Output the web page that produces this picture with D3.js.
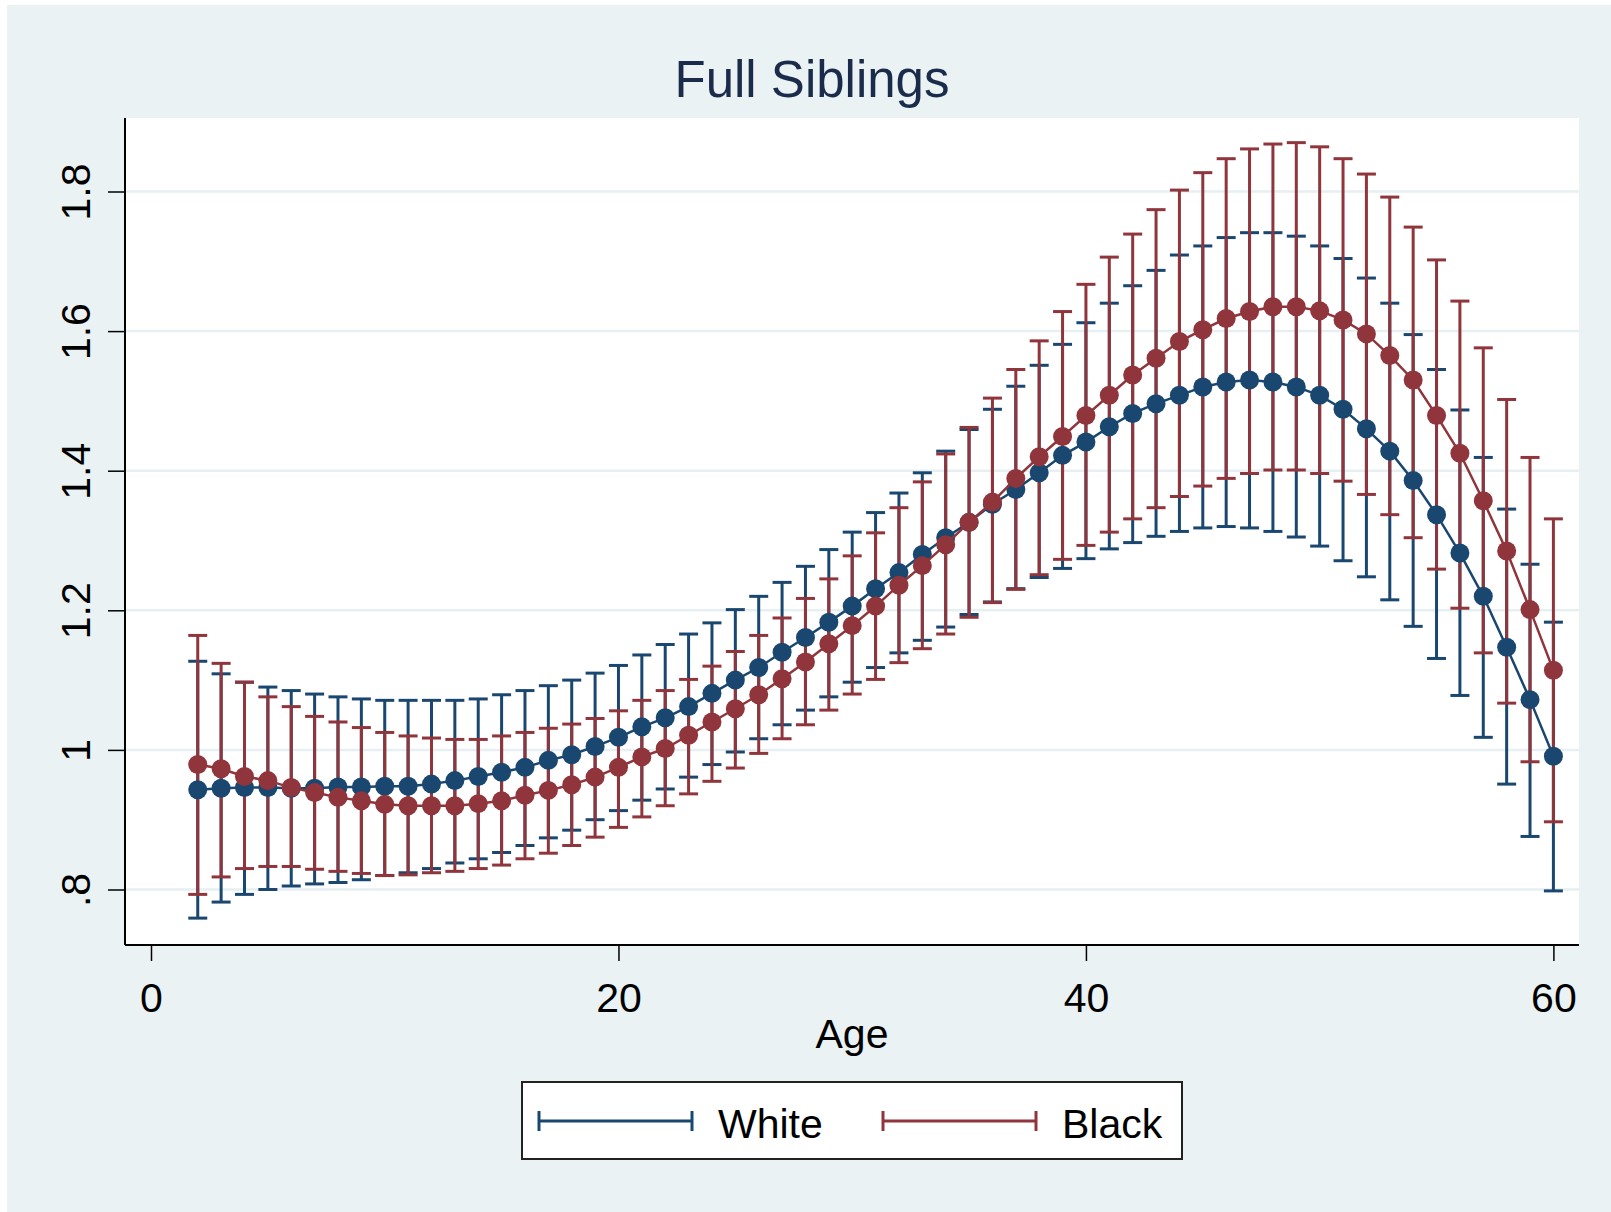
<!DOCTYPE html>
<html>
<head>
<meta charset="utf-8">
<script src="https://cdn.jsdelivr.net/npm/d3@7"></script>
<style>
  body { margin: 0; background: #fff; }
  svg { display: block; }
  text { font-family: "Liberation Sans", Arial, sans-serif; }
</style>
</head>
<body>
<svg id="chart" width="1611" height="1212"></svg>
<script>

var ages = [2,3,4,5,6,7,8,9,10,11,12,13,14,15,16,17,18,19,20,21,22,23,24,25,26,27,28,29,30,31,
            32,33,34,35,36,37,38,39,40,41,42,43,44,45,46,47,48,49,50,51,52,53,54,55,56,57,58,59,60];

// white
var whiteMean = [0.943,0.945,0.946,0.946,0.945,0.945,0.947,0.947,0.948,0.948,0.951,0.956,0.962,0.968,0.975,
                 0.985,0.993,1.005,1.018,1.033,1.046,1.062,1.081,1.100,1.118,1.140,1.161,1.183,1.206,1.231,
                 1.254,1.280,1.304,1.326,1.352,1.373,1.397,1.422,1.441,1.463,1.482,1.496,1.508,1.520,1.527,
                 1.530,1.527,1.520,1.508,1.488,1.460,1.428,1.386,1.337,1.282,1.220,1.147,1.072,0.991];
var whiteHi = [1.127,1.109,1.097,1.090,1.085,1.080,1.076,1.073,1.071,1.071,1.071,1.071,1.073,1.079,1.085,
               1.092,1.100,1.110,1.121,1.136,1.151,1.166,1.182,1.201,1.220,1.240,1.263,1.287,1.312,1.340,
               1.368,1.397,1.428,1.459,1.488,1.521,1.551,1.581,1.612,1.640,1.665,1.687,1.709,1.722,1.734,
               1.741,1.741,1.736,1.722,1.704,1.676,1.640,1.595,1.545,1.487,1.419,1.345,1.266,1.183];
var whiteLo = [0.759,0.782,0.793,0.800,0.805,0.808,0.810,0.814,0.820,0.824,0.830,0.838,0.844,0.853,0.863,
               0.874,0.885,0.900,0.913,0.928,0.944,0.961,0.979,0.997,1.016,1.036,1.057,1.076,1.097,1.118,
               1.139,1.157,1.176,1.194,1.212,1.231,1.247,1.260,1.274,1.288,1.297,1.306,1.313,1.318,1.320,
               1.318,1.313,1.305,1.292,1.271,1.248,1.215,1.177,1.131,1.078,1.018,0.951,0.876,0.798];

// black
var blackMean = [0.979,0.973,0.962,0.956,0.946,0.939,0.932,0.927,0.922,0.920,0.920,0.920,0.923,0.927,0.935,
                 0.942,0.950,0.961,0.975,0.990,1.002,1.021,1.040,1.059,1.079,1.102,1.126,1.152,1.178,1.206,
                 1.236,1.264,1.294,1.326,1.355,1.389,1.420,1.449,1.479,1.508,1.537,1.561,1.585,1.602,1.618,
                 1.628,1.635,1.635,1.629,1.616,1.596,1.565,1.530,1.479,1.425,1.357,1.285,1.201,1.114];
var blackHi = [1.164,1.124,1.097,1.076,1.062,1.048,1.040,1.032,1.025,1.020,1.017,1.015,1.015,1.020,1.025,
               1.031,1.037,1.045,1.056,1.071,1.085,1.101,1.120,1.141,1.164,1.189,1.217,1.245,1.278,1.311,
               1.347,1.384,1.424,1.462,1.504,1.545,1.586,1.628,1.667,1.706,1.739,1.774,1.802,1.827,1.847,
               1.861,1.868,1.870,1.864,1.847,1.825,1.792,1.749,1.702,1.643,1.576,1.502,1.419,1.331];
var blackLo = [0.793,0.818,0.830,0.833,0.833,0.829,0.826,0.823,0.820,0.821,0.824,0.826,0.830,0.835,0.844,
               0.852,0.863,0.875,0.889,0.904,0.920,0.937,0.955,0.974,0.995,1.016,1.036,1.057,1.080,1.101,
               1.125,1.145,1.166,1.190,1.211,1.230,1.251,1.273,1.293,1.312,1.331,1.347,1.363,1.378,1.389,
               1.396,1.401,1.401,1.396,1.385,1.366,1.337,1.304,1.259,1.203,1.139,1.067,0.983,0.897];

var yTicks = [0.8, 1, 1.2, 1.4, 1.6, 1.8];
var yTickLabels = [".8", "1", "1.2", "1.4", "1.6", "1.8"];
var xTicks = [0, 20, 40, 60];
var seriesNames = ["White", "Black"];

var navy = "#1a476f", maroon = "#90353b";

var series = [
  {name: seriesNames[0], color: navy, mean: whiteMean, lo: whiteLo, hi: whiteHi},
  {name: seriesNames[1], color: maroon, mean: blackMean, lo: blackLo, hi: blackHi}
];

var svg = d3.select("#chart");

// plot box (don't call these top/left, window.top is taken)
var plotL = 125, plotR = 1579, plotT = 118, plotB = 945;

var x = d3.scaleLinear().domain([0, 60]).range([151, 1553.4]);
var y = d3.scaleLinear().domain([0.8, 1.8]).range([889.5, 191.5]);

// background
svg.append("rect").attr("x", 7).attr("y", 5).attr("width", 1611 - 7).attr("height", 1212 - 5)
   .attr("fill", "#eaf2f3");
svg.append("rect").attr("x", plotL).attr("y", plotT).attr("width", plotR - plotL).attr("height", plotB - plotT)
   .attr("fill", "#fff");

// title
svg.append("text").attr("x", 812).attr("y", 97).attr("text-anchor", "middle")
   .attr("font-size", 51).attr("fill", "#1a2b4b").text("Full Siblings");

// grid
svg.append("g").selectAll("line").data(yTicks).enter().append("line")
   .attr("x1", plotL).attr("x2", plotR)
   .attr("y1", function(d){ return y(d); }).attr("y2", function(d){ return y(d); })
   .attr("stroke", "#e6eff1").attr("stroke-width", 2.5);

// error bars (whites first, blacks on top)
series.forEach(function(s){
  var rows = ages.map(function(a, i){ return {a: a, lo: s.lo[i], hi: s.hi[i]}; });
  var g = svg.append("g").attr("stroke", s.color).attr("stroke-width", 3);
  var bar = g.selectAll("g").data(rows).enter().append("g");
  bar.append("line")
     .attr("x1", function(d){ return x(d.a); }).attr("x2", function(d){ return x(d.a); })
     .attr("y1", function(d){ return y(d.lo); }).attr("y2", function(d){ return y(d.hi); });
  bar.append("line")
     .attr("x1", function(d){ return x(d.a) - 9.5; }).attr("x2", function(d){ return x(d.a) + 9.5; })
     .attr("y1", function(d){ return y(d.hi); }).attr("y2", function(d){ return y(d.hi); });
  bar.append("line")
     .attr("x1", function(d){ return x(d.a) - 9.5; }).attr("x2", function(d){ return x(d.a) + 9.5; })
     .attr("y1", function(d){ return y(d.lo); }).attr("y2", function(d){ return y(d.lo); });
});

// connected means
var line = d3.line().x(function(d){ return x(d.a); }).y(function(d){ return y(d.m); });
series.forEach(function(s){
  var pts = ages.map(function(a, i){ return {a: a, m: s.mean[i]}; });
  svg.append("path").datum(pts).attr("d", line)
     .attr("fill", "none").attr("stroke", s.color).attr("stroke-width", 2.5);
  svg.append("g").selectAll("circle").data(pts).enter().append("circle")
     .attr("cx", function(d){ return x(d.a); }).attr("cy", function(d){ return y(d.m); })
     .attr("r", 9.5).attr("fill", s.color);
});

// axis lines
svg.append("line").attr("x1", plotL).attr("x2", plotL).attr("y1", plotT).attr("y2", plotB)
   .attr("stroke", "#000").attr("stroke-width", 2);
svg.append("line").attr("x1", plotL).attr("x2", plotR).attr("y1", plotB).attr("y2", plotB)
   .attr("stroke", "#000").attr("stroke-width", 2);

// y axis
var yAxis = svg.append("g").attr("transform", "translate(" + plotL + ",0)")
   .call(d3.axisLeft(y).tickValues(yTicks).tickSize(17).tickSizeOuter(0)
         .tickFormat(function(d, i){ return yTickLabels[i]; }));
yAxis.select(".domain").remove();
yAxis.selectAll(".tick line").attr("stroke", "#000").attr("stroke-width", 1.5);
yAxis.selectAll(".tick text")
     .attr("x", 0).attr("y", -35).attr("dy", 0)
     .attr("transform", "rotate(-90)").attr("text-anchor", "middle")
     .attr("font-size", 41).attr("font-family", "Liberation Sans, Arial, sans-serif").attr("fill", "#000");

// x axis
var xAxis = svg.append("g").attr("transform", "translate(0," + plotB + ")")
   .call(d3.axisBottom(x).tickValues(xTicks).tickSize(16).tickSizeOuter(0));
xAxis.select(".domain").remove();
xAxis.selectAll(".tick line").attr("stroke", "#000").attr("stroke-width", 1.5);
xAxis.selectAll(".tick text")
     .attr("y", 67).attr("dy", 0)
     .attr("font-size", 41).attr("font-family", "Liberation Sans, Arial, sans-serif").attr("fill", "#000");

svg.append("text").attr("x", (plotL + plotR) / 2).attr("y", 1048).attr("text-anchor", "middle")
   .attr("font-size", 41).attr("fill", "#000").text("Age");

// legend
var lg = svg.append("g");
lg.append("rect").attr("x", 522).attr("y", 1082).attr("width", 660).attr("height", 77)
  .attr("fill", "#fff").attr("stroke", "#222").attr("stroke-width", 2);
var keyX = [539, 883];
series.forEach(function(s, i){
  var k = lg.append("g").attr("stroke", s.color).attr("stroke-width", 3);
  k.append("line").attr("x1", keyX[i]).attr("x2", keyX[i] + 153).attr("y1", 1121).attr("y2", 1121);
  k.append("line").attr("x1", keyX[i]).attr("x2", keyX[i]).attr("y1", 1111).attr("y2", 1131);
  k.append("line").attr("x1", keyX[i] + 153).attr("x2", keyX[i] + 153).attr("y1", 1111).attr("y2", 1131);
  lg.append("text").attr("x", keyX[i] + 179).attr("y", 1138)
    .attr("font-size", 41).attr("fill", "#000").text(s.name);
});

</script>
</body>
</html>
